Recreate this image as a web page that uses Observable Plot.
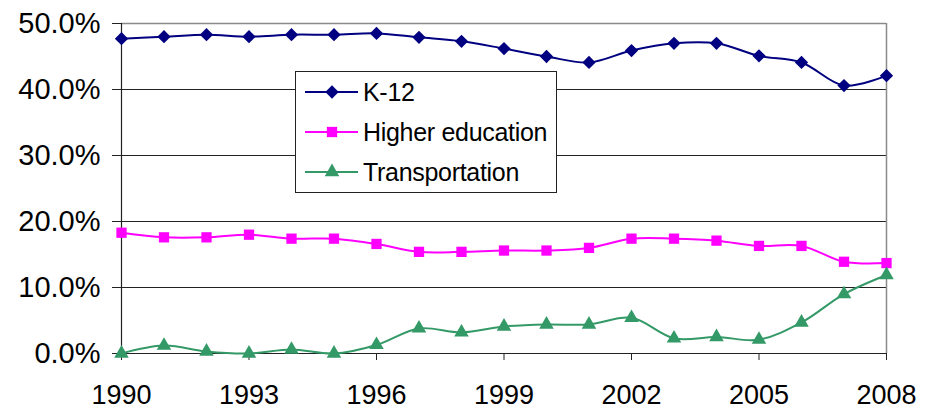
<!DOCTYPE html>
<html>
<head>
<meta charset="utf-8">
<script src="https://cdn.jsdelivr.net/npm/d3@7"></script>
<script src="https://cdn.jsdelivr.net/npm/@observablehq/plot@0.6"></script>
<style>
  html, body { margin: 0; padding: 0; background: #fff; }
  #wrap { position: relative; width: 939px; height: 410px; font-family: "Liberation Sans", Arial, sans-serif; }
  #legend { position: absolute; left: 295px; top: 71px; width: 260px; height: 120px; border: 1px solid #222; background: #fff; box-sizing: content-box; }
  .row { position: absolute; left: 0; height: 40px; display: flex; align-items: center; }
  .row span { font-size: 25px; color: #000; white-space: nowrap; letter-spacing: -0.3px; }
</style>
</head>
<body>
<div id="wrap"></div>
<script>
const years = [1990,1991,1992,1993,1994,1995,1996,1997,1998,1999,2000,2001,2002,2003,2004,2005,2006,2007,2008];
const k12 = [47.7,48.0,48.3,48.0,48.3,48.3,48.5,47.9,47.3,46.2,45.0,44.1,45.9,47.0,47.0,45.1,44.1,40.6,42.1];
const higherEd = [18.3,17.6,17.6,18.0,17.4,17.4,16.6,15.4,15.4,15.6,15.6,16.0,17.4,17.4,17.1,16.3,16.3,13.9,13.7];
const transportation = [0.0,1.2,0.3,0.0,0.6,0.0,1.3,3.8,3.2,4.1,4.4,4.4,5.4,2.3,2.5,2.1,4.7,9.0,11.9];
const seriesNames = ["K-12","Higher education","Transportation"];
const seriesColors = ["#000080","#FF00FF","#339966"];
const seriesSymbols = ["square","square","triangle"];
const seriesRotate = [45,0,0];
const seriesR = [5.3,5.8,5.4];
const yTicks = [0,10,20,30,40,50];
const xTicks = [1990,1993,1996,1999,2002,2005,2008];

const seriesValues = [k12, higherEd, transportation];
const series = seriesNames.map((name, i) => years.map((year, j) => ({year, value: seriesValues[i][j], name})));

const marks = [
  Plot.ruleY([10,20,30,40], {stroke: "#222", strokeWidth: 1}),
  Plot.ruleY([50], {stroke: "#8a8a8a", strokeWidth: 1.5}),
  Plot.ruleX([2008], {stroke: "#8a8a8a", strokeWidth: 1.5}),
  Plot.ruleY([0], {stroke: "#222", strokeWidth: 1.2}),
  Plot.ruleX([1990], {stroke: "#222", strokeWidth: 1.2}),
  Plot.axisY({ticks: yTicks, tickFormat: d => d.toFixed(1) + "%", tickSize: 9, tickPadding: 12, fontSize: 29, stroke: "#222", fill: "#000", label: null}),
  Plot.axisX({ticks: xTicks, tickFormat: d => String(d), tickSize: 7, tickPadding: 24, fontSize: 27, stroke: "#222", fill: "#000", label: null})
];
series.forEach((data, i) => {
  marks.push(Plot.line(data, {x: "year", y: "value", stroke: seriesColors[i], strokeWidth: 2, curve: "catmull-rom"}));
  marks.push(Plot.dot(data, {x: "year", y: "value", symbol: () => seriesSymbols[i], fill: seriesColors[i], r: seriesR[i], rotate: seriesRotate[i], stroke: "none"}));
});

const chart = Plot.plot({
  width: 939,
  height: 410,
  marginLeft: 121,
  marginRight: 53,
  marginTop: 23,
  marginBottom: 57,
  x: {domain: [1990, 2008]},
  y: {domain: [0, 50]},
  style: {fontFamily: "'Liberation Sans', Arial, sans-serif", background: "#fff", color: "#000"},
  marks
});
const wrap = document.getElementById("wrap");
wrap.appendChild(chart);

// Legend
const legend = document.createElement("div");
legend.id = "legend";
const rowTops = [0, 40, 80];
seriesNames.forEach((name, i) => {
  const row = document.createElement("div");
  row.className = "row";
  row.style.top = rowTops[i] + "px";
  const svg = d3.create("svg").attr("width", 67).attr("height", 40);
  svg.append("line").attr("x1", 9).attr("x2", 62).attr("y1", 20).attr("y2", 20)
    .attr("stroke", seriesColors[i]).attr("stroke-width", 2);
  const symType = seriesSymbols[i] === "triangle" ? d3.symbolTriangle : d3.symbolSquare;
  const size = Math.PI * seriesR[i] * seriesR[i];
  svg.append("path").attr("d", d3.symbol(symType, size)())
    .attr("transform", `translate(36,20) rotate(${seriesRotate[i]})`)
    .attr("fill", seriesColors[i]);
  row.appendChild(svg.node());
  const span = document.createElement("span");
  span.textContent = name;
  row.appendChild(span);
  legend.appendChild(row);
});
wrap.appendChild(legend);
</script>
</body>
</html>
